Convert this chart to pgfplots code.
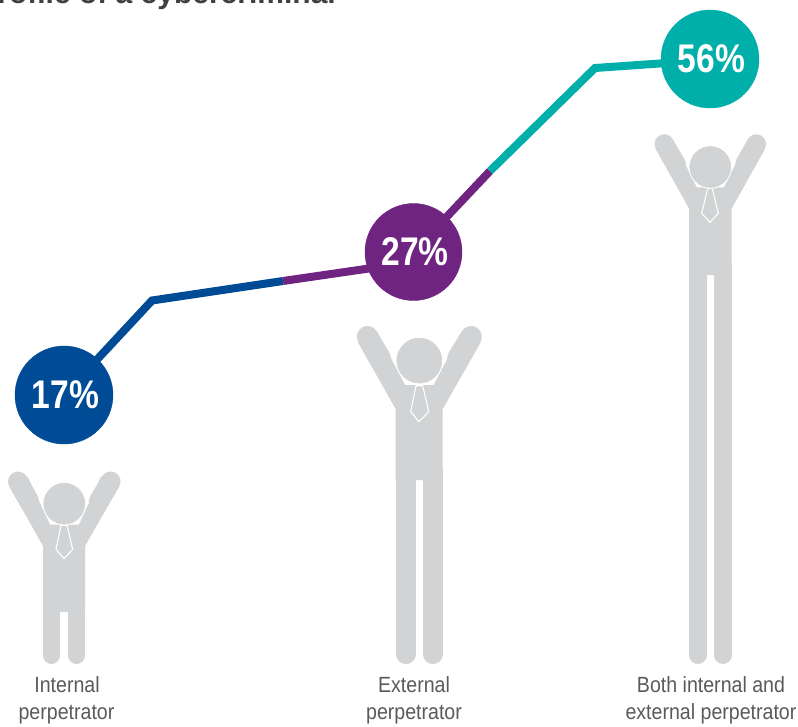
\documentclass[border=0pt]{standalone}
\usepackage{pgfplots}
\pgfplotsset{compat=1.18}
\usepackage{fontspec}
\setmainfont[FakeStretch=0.89]{Liberation Sans}
\newfontfamily\pctfont[FakeStretch=0.84]{Liberation Sans}
\newfontfamily\titlefont{Liberation Sans}
\definecolor{figgray}{RGB}{209,211,212}
\definecolor{lblue}{RGB}{0,75,150}
\definecolor{lpurple}{RGB}{112,36,130}
\definecolor{lteal}{RGB}{0,175,169}
\definecolor{txt}{RGB}{90,90,90}
\tikzset{lbl/.style={anchor=base,inner sep=0pt,text=txt,font=\fontsize{22}{22}\selectfont}}
\pgfplotsset{
  body/.style={draw=none,fill=figgray,mark=none},
  limb/.style={figgray,mark=none,line cap=round,line width=#1},
  tie/.style={draw=white,fill=figgray,line width=1.1pt,mark=none,line join=miter},
  head/.style={only marks,mark=*,mark size=#1,mark options={fill=figgray,draw=white,line width=0.8pt}},
  seg/.style={#1,mark=none,line width=8pt,line join=miter},
  dot/.style={only marks,mark=*,mark size=#1,point meta=explicit symbolic,nodes near coords,
    every node near coord/.style={anchor=center,inner sep=0pt,xshift=1.5pt,text=white,font=\fontsize{40}{40}\pctfont\bfseries}},
}
\begin{document}
\begin{tikzpicture}
\begin{axis}[
  width=798pt,height=726pt,scale only axis,
  xmin=0,xmax=798,ymin=0,ymax=726,y dir=reverse,
  hide axis,clip=true,
]
\addplot[draw=none,mark=none] coordinates {(0,0)(798,726)};
% figure 1
\addplot[body] coordinates {(9.4,486.3)(43,546)(43,612)(85,612)(85,546)(119.2,486.3)(101,476.5)(79,524.5)(50,524.5)(27.5,476.5)} -- cycle;
\addplot[limb=20pt] coordinates {(18,481.5)(29,501)};
\addplot[limb=20pt] coordinates {(110.6,481.5)(99,501)};
\addplot[limb=17pt] coordinates {(51.5,600)(51.5,655.5)};
\addplot[limb=17pt] coordinates {(76.5,600)(76.5,655.5)};
\addplot[head=21.3pt] coordinates {(64.3,503.7)};
\addplot[tie] coordinates {(61,525.2)(67,525.2)(72.7,549.3)(64,558.7)(56,549.3)} -- cycle;
% figure 2
\addplot[body] coordinates {(358,342.5)(395.7,409)(395.7,480)(442.7,480)(442.7,409)(480.6,342.5)(461.4,331.9)(433.6,385)(405,385)(377.2,331.9)} -- cycle;
\addplot[limb=21.5pt] coordinates {(367.5,336.7)(380,358)};
\addplot[limb=21.5pt] coordinates {(471.1,336.7)(458,358)};
\addplot[limb=19.7pt] coordinates {(405.8,470)(405.8,654.2)};
\addplot[limb=19.7pt] coordinates {(432.8,470)(432.8,654.2)};
\addplot[head=23.3pt] coordinates {(419.3,360.6)};
\addplot[tie] coordinates {(416,385.7)(422.7,385.7)(428.7,411.7)(419,421.7)(410.7,411.7)} -- cycle;
% figure 3
\addplot[body] coordinates {(655.6,148.8)(689,208.5)(689,275)(731.7,275)(731.7,208.5)(765,148.8)(747.8,139.4)(724,187.3)(696.7,187.3)(672.8,139.4)} -- cycle;
\addplot[limb=19.5pt] coordinates {(664.3,144)(676,164)};
\addplot[limb=19.5pt] coordinates {(756.3,144)(745,164)};
\addplot[limb=17.7pt] coordinates {(697.8,265)(697.8,655.1)};
\addplot[limb=17.7pt] coordinates {(722.8,265)(722.8,655.1)};
\addplot[head=21.3pt] coordinates {(710.3,167)};
\addplot[tie] coordinates {(707.7,188.3)(712.3,188.3)(718.3,213.3)(710,222.3)(701.7,213.3)} -- cycle;
% connecting line
\addplot[seg=lblue] coordinates {(64,395)(152,300.5)(283,281)};
\addplot[seg=lpurple] coordinates {(283,281)(413.5,262)};
\addplot[seg=lpurple] coordinates {(413.5,252)(490,171)};
\addplot[seg=lteal] coordinates {(490,171)(595,68)(710,60)};
\addplot[dot=49pt,mark options={fill=lblue,draw=none},lblue] coordinates {(64,395)[17\%]};
\addplot[dot=48.5pt,mark options={fill=lpurple,draw=none},lpurple] coordinates {(413.5,252)[27\%]};
\addplot[dot=49pt,mark options={fill=lteal,draw=none},lteal] coordinates {(710,59)[56\%]};
% text
\node[anchor=base east,overlay,inner sep=0pt,text=black!75,font=\fontsize{30}{30}\titlefont\bfseries] at (axis cs:336,3) {Profile of a cybercriminal};
\node[lbl] at (axis cs:67,692) {Internal};
\node[lbl] at (axis cs:66.5,719.5) {perpetrator};
\node[lbl] at (axis cs:414,692) {External};
\node[lbl] at (axis cs:414,719.5) {perpetrator};
\node[lbl] at (axis cs:711,692) {Both internal and};
\node[lbl] at (axis cs:711,719.5) {external perpetrator};
\end{axis}
\end{tikzpicture}
\end{document}
